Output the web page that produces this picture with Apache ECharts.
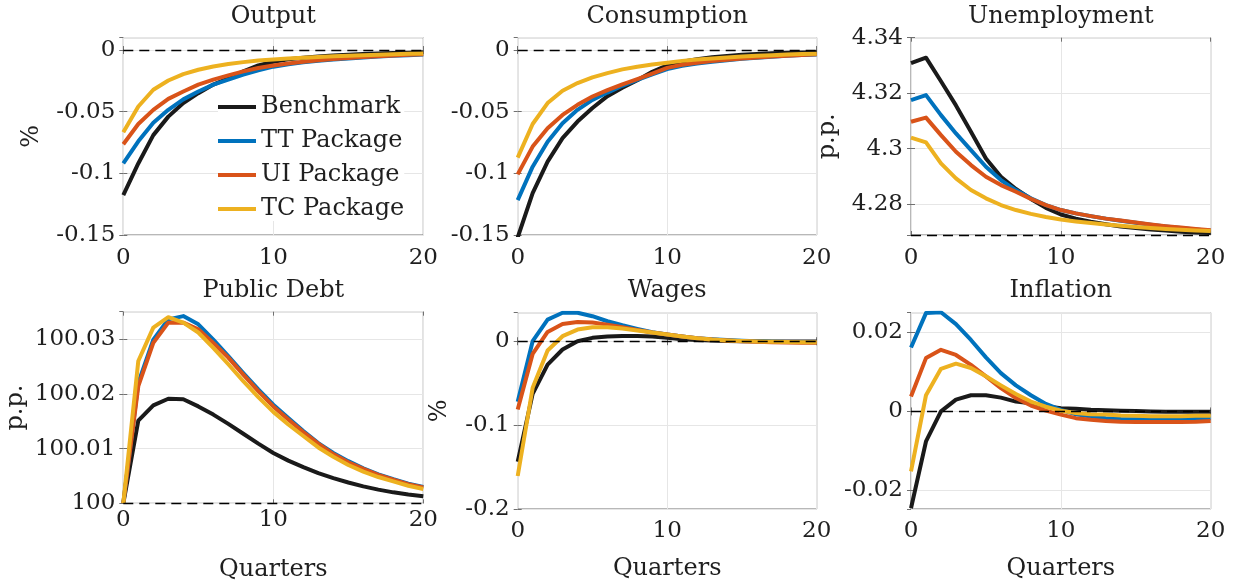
<!DOCTYPE html>
<html><head><meta charset="utf-8">
<script src="https://cdn.jsdelivr.net/npm/echarts@6/dist/echarts.min.js"></script>
<style>html,body{margin:0;padding:0;background:#fff}#c{width:1240px;height:586px}</style>
</head><body><div id="c"></div>
<script>
// ---------------- DATA ----------------
const quarters = [0,1,2,3,4,5,6,7,8,9,10,11,12,13,14,15,16,17,18,19,20];
const seriesNames = ['Benchmark','TT Package','UI Package','TC Package'];
const panelTitles = ['Output','Consumption','Unemployment','Public Debt','Wages','Inflation'];
const yNames = ['%','','p.p.','p.p.','%',''];
const xNames = ['','','','Quarters','Quarters','Quarters'];
const refLevels = [0,0,4.2689,100,0,0];

const outputBenchmark = [-0.1176,-0.092,-0.069,-0.054,-0.043,-0.035,-0.028,-0.023,-0.0173,-0.0125,-0.0095,-0.0075,-0.0063,-0.0053,-0.0045,-0.0039,-0.0033,-0.0029,-0.0025,-0.0022,-0.0019];
const outputTT = [-0.092,-0.074,-0.059,-0.0485,-0.040,-0.0336,-0.028,-0.024,-0.020,-0.0165,-0.0135,-0.0115,-0.010,-0.0088,-0.0077,-0.0068,-0.006,-0.0053,-0.0047,-0.0042,-0.0037];
const outputUI = [-0.0764,-0.060,-0.0485,-0.0396,-0.0336,-0.028,-0.024,-0.0206,-0.0173,-0.0146,-0.0125,-0.011,-0.0095,-0.0083,-0.0073,-0.0064,-0.0056,-0.005,-0.0044,-0.0039,-0.0035];
const outputTC = [-0.0667,-0.0458,-0.0322,-0.0247,-0.0195,-0.016,-0.0133,-0.0114,-0.0098,-0.0084,-0.0076,-0.0069,-0.0062,-0.0056,-0.0051,-0.0046,-0.0042,-0.0038,-0.0034,-0.0031,-0.0028];

const consBenchmark = [-0.152,-0.116,-0.0905,-0.0715,-0.058,-0.047,-0.0374,-0.0306,-0.0245,-0.0177,-0.0124,-0.0095,-0.0074,-0.0059,-0.0048,-0.0039,-0.0032,-0.0027,-0.0023,-0.002,-0.0017];
const consTT = [-0.1217,-0.0946,-0.0743,-0.0593,-0.0485,-0.0404,-0.0345,-0.029,-0.0243,-0.0197,-0.0155,-0.0128,-0.011,-0.0095,-0.0082,-0.0071,-0.0062,-0.0054,-0.0047,-0.0041,-0.0036];
const consUI = [-0.1008,-0.0783,-0.0634,-0.0526,-0.0444,-0.0377,-0.0325,-0.0278,-0.0236,-0.0192,-0.0145,-0.012,-0.0104,-0.009,-0.0078,-0.0068,-0.006,-0.0052,-0.0046,-0.004,-0.0035];
const consTC = [-0.0873,-0.060,-0.043,-0.033,-0.0268,-0.0222,-0.0187,-0.0157,-0.0135,-0.0117,-0.0103,-0.0088,-0.0077,-0.0068,-0.006,-0.0053,-0.0047,-0.0042,-0.0037,-0.0033,-0.003];

const unempBenchmark = [4.3308,4.3328,4.3243,4.3156,4.3061,4.2965,4.2899,4.2855,4.2819,4.2787,4.2763,4.2748,4.2737,4.2728,4.2720,4.2714,4.2709,4.2705,4.2701,4.2698,4.2696];
const unempTT = [4.3175,4.3193,4.3121,4.3055,4.2995,4.2935,4.2887,4.2851,4.2821,4.2797,4.2779,4.2767,4.2757,4.2748,4.2740,4.2733,4.2726,4.2720,4.2714,4.2709,4.2704];
const unempUI = [4.3097,4.3112,4.3049,4.2989,4.2941,4.2899,4.2869,4.2845,4.2819,4.2797,4.2779,4.2767,4.2757,4.2748,4.2741,4.2734,4.2727,4.2721,4.2716,4.2711,4.2706];
const unempTC = [4.3040,4.3023,4.2947,4.2893,4.2851,4.2821,4.2797,4.2779,4.2765,4.2754,4.2745,4.2738,4.2732,4.2727,4.2722,4.2718,4.2714,4.2711,4.2708,4.2705,4.2703];

const debtBenchmark = [100.0,100.0151,100.0179,100.0191,100.019,100.0177,100.0162,100.0145,100.0127,100.0109,100.0092,100.0078,100.0066,100.0055,100.0046,100.0038,100.0031,100.0025,100.002,100.0016,100.0013];
const debtTT = [100.0,100.022,100.0299,100.0336,100.0342,100.0327,100.0299,100.0269,100.0238,100.0208,100.018,100.0156,100.0132,100.011,100.0092,100.0077,100.0064,100.0053,100.0044,100.0036,100.003];
const debtUI = [100.0,100.0214,100.0293,100.033,100.033,100.0318,100.0293,100.0266,100.0235,100.0205,100.0177,100.0153,100.013,100.0109,100.009,100.0075,100.0063,100.0052,100.0043,100.0035,100.0029];
const debtTC = [100.0,100.026,100.0321,100.034,100.033,100.0312,100.0284,100.0254,100.0223,100.0194,100.0167,100.0144,100.0123,100.0102,100.0085,100.007,100.0058,100.0048,100.004,100.0032,100.0026];

const wageBenchmark = [-0.1437,-0.0627,-0.0278,-0.0099,0.0,0.004,0.0056,0.0063,0.0063,0.0056,0.004,0.0024,0.0016,0.0008,0.0004,0.0001,-0.0001,-0.0002,-0.0003,-0.0003,-0.0003];
const wageTT = [-0.0722,0.0,0.0258,0.034,0.034,0.0298,0.0238,0.019,0.0147,0.0107,0.0079,0.0056,0.0036,0.0024,0.0014,0.0006,0.0,-0.0005,-0.0008,-0.001,-0.0012];
const wageUI = [-0.0813,-0.0151,0.0111,0.0206,0.023,0.0222,0.0198,0.0167,0.0135,0.0103,0.0079,0.0056,0.0036,0.002,0.001,0.0,-0.0007,-0.0012,-0.0015,-0.0017,-0.0018];
const wageTC = [-0.1607,-0.0556,-0.0111,0.006,0.0139,0.0167,0.0167,0.0151,0.0127,0.0103,0.0079,0.0056,0.0036,0.002,0.001,0.0002,-0.0003,-0.0007,-0.001,-0.0012,-0.0013];

const inflBenchmark = [-0.0245,-0.0076,0.0,0.003,0.0041,0.0041,0.0035,0.0025,0.0021,0.0013,0.0008,0.0007,0.0004,0.0003,0.0002,0.0001,0.0,-0.0001,-0.0001,-0.0001,-0.0001];
const inflTT = [0.0162,0.0249,0.0251,0.0221,0.0181,0.0137,0.0097,0.0066,0.0041,0.0019,0.0004,-0.0007,-0.0013,-0.0017,-0.0019,-0.002,-0.002,-0.002,-0.0019,-0.0018,-0.0017];
const inflUI = [0.0038,0.0135,0.0156,0.0143,0.0118,0.0089,0.0059,0.0034,0.0015,0.0002,-0.0008,-0.0017,-0.0021,-0.0024,-0.0026,-0.0027,-0.0027,-0.0027,-0.0027,-0.0026,-0.0024];
const inflTC = [-0.0152,0.0041,0.0108,0.0121,0.011,0.0089,0.0066,0.0044,0.0025,0.0012,0.0002,-0.0004,-0.0007,-0.0008,-0.001,-0.0011,-0.0012,-0.0012,-0.0012,-0.0011,-0.0011];

const panelData = [
  [outputBenchmark, outputTT, outputUI, outputTC],
  [consBenchmark, consTT, consUI, consTC],
  [unempBenchmark, unempTT, unempUI, unempTC],
  [debtBenchmark, debtTT, debtUI, debtTC],
  [wageBenchmark, wageTT, wageUI, wageTC],
  [inflBenchmark, inflTT, inflUI, inflTC]
];

// ---------------- LAYOUT / STYLE ----------------
const FONT = '"DejaVu Serif", serif';
const seriesColors = ['#1a1a1a','#0072BD','#D95319','#EDB120'];
const grids = [
  {left:123.3, top:37.7, width:300, height:197.3},
  {left:517.7, top:37.7, width:299, height:197.3},
  {left:911, top:37.7, width:299.7, height:197.3},
  {left:123.3, top:311.7, width:300, height:191.6},
  {left:517.7, top:312.7, width:299, height:196.3},
  {left:911, top:312.7, width:299.7, height:196.3}
];
const yScales = [
  {min:-0.15, max:0.01, interval:0.05, showMin:true, showMax:false},
  {min:-0.15, max:0.01, interval:0.05, showMin:true, showMax:false},
  {min:4.2689, max:4.34, splitNumber:3, showMin:false, showMax:true},
  {min:100, max:100.035, interval:0.01, showMin:true, showMax:false},
  {min:-0.2, max:0.034, interval:0.1, showMin:true, showMax:false},
  {min:-0.0247, max:0.025, splitNumber:3, showMin:false, showMax:false}
];
const yNameGaps = [80, 0, 71, 96, 66, 0];
const xLabelMargins = [12, 12, 12, 5, 11, 11];
const xNameGaps = [0, 0, 0, 54, 48, 48];
const titleY = [17, 17, 17, 291, 291, 291];

const gridColor = '#e6e6e6';
const boxColor = '#707070';
const textColor = '#1f1f1f';

const xAxes = [], yAxes = [];
for (let i = 0; i < 6; i++) {
  xAxes.push({
    type:'value', gridIndex:i, min:0, max:20, interval:10, position:'bottom',
    axisLine:{show:false},
    axisTick:{show:true, inside:true, length:4, lineStyle:{color:boxColor}},
    axisLabel:{show:true, margin:xLabelMargins[i], fontSize:23, fontFamily:FONT, color:textColor},
    splitLine:{show:true, lineStyle:{color:gridColor, width:1}},
    name:xNames[i], nameLocation:'middle', nameGap:xNameGaps[i],
    nameTextStyle:{fontSize:24, fontFamily:FONT, color:textColor}
  });
}
for (let i = 0; i < 6; i++) {
  xAxes.push({
    type:'value', gridIndex:i, min:0, max:20, interval:10, position:'top',
    axisLine:{show:false},
    axisTick:{show:true, inside:true, length:4, lineStyle:{color:boxColor}},
    axisLabel:{show:false}, splitLine:{show:false}
  });
}
function yAxisFor(i, pos) {
  const s = yScales[i];
  const ax = {
    type:'value', gridIndex:i, min:s.min, max:s.max, position:pos,
    axisLine:{show:false},
    axisTick:{show:true, inside:true, length:4, lineStyle:{color:boxColor}}
  };
  if (s.interval !== undefined) ax.interval = s.interval;
  if (s.splitNumber !== undefined) ax.splitNumber = s.splitNumber;
  if (pos === 'left') {
    ax.axisLabel = {show:true, margin:8, fontSize:23, fontFamily:FONT, color:textColor,
                    showMinLabel:s.showMin, showMaxLabel:s.showMax};
    ax.splitLine = {show:true, lineStyle:{color:gridColor, width:1}};
    ax.name = yNames[i]; ax.nameLocation = 'middle'; ax.nameGap = yNameGaps[i];
    ax.nameTextStyle = {fontSize:24, fontFamily:FONT, color:textColor};
  } else {
    ax.axisLabel = {show:false};
    ax.splitLine = {show:false};
  }
  return ax;
}
for (let i = 0; i < 6; i++) yAxes.push(yAxisFor(i, 'left'));
for (let i = 0; i < 6; i++) yAxes.push(yAxisFor(i, 'right'));

const series = [];
for (let p = 0; p < 6; p++) {
  for (let k = 0; k < 4; k++) {
    const s = {
      type:'line', name:seriesNames[k], xAxisIndex:p, yAxisIndex:p,
      data: quarters.map((q, j) => [q, panelData[p][k][j]]),
      symbol:'none', showSymbol:false, clip:true,
      lineStyle:{width:4, color:seriesColors[k], join:'round'},
      itemStyle:{color:seriesColors[k]},
      animation:false
    };
    if (k === 3) {
      s.markLine = {
        silent:true, symbol:'none', animation:false, label:{show:false}, precision:6,
        lineStyle:{color:'#000', type:[10,6], width:1.4},
        data:[{yAxis: refLevels[p]}]
      };
    }
    series.push(s);
  }
}

const option = {
  animation:false,
  backgroundColor:'#fff',
  textStyle:{fontFamily:FONT},
  grid: grids.map(g => Object.assign({show:true, borderColor:boxColor, borderWidth:1, backgroundColor:'transparent', containLabel:false}, g)),
  xAxis: xAxes,
  yAxis: yAxes,
  legend: {
    data: seriesNames, orient:'vertical', left:218, top:95,
    icon:'rect', itemWidth:38, itemHeight:4, itemGap:10, padding:0,
    backgroundColor:'#fff',
    textStyle:{fontSize:24, fontFamily:FONT, color:textColor}
  },
  graphic: panelTitles.map((t, i) => ({
    type:'text', x: grids[i].left + grids[i].width / 2, y: titleY[i], z:10,
    style:{text:t, font:'24px ' + FONT, fill:textColor, align:'center', verticalAlign:'middle'}
  })),
  series: series
};
const chart = echarts.init(document.getElementById('c'), null, {renderer:'canvas'});
chart.setOption(option);
</script>
</body></html>
